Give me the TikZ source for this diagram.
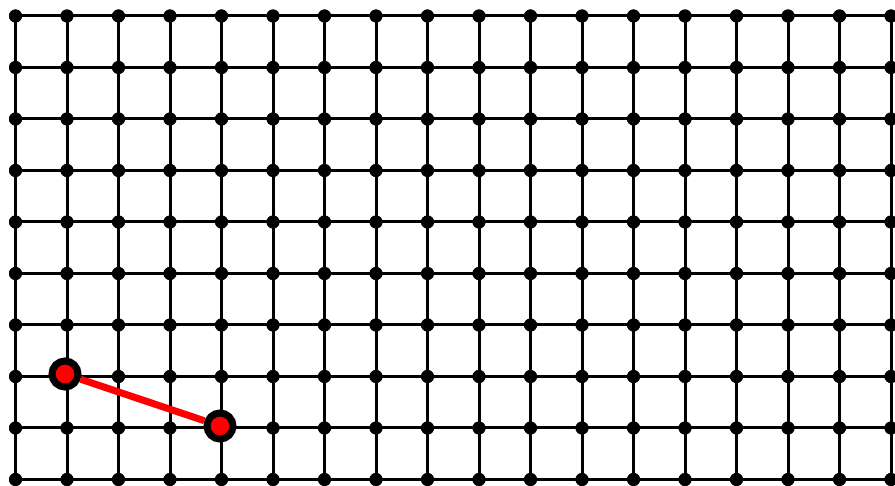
\documentclass[tikz,border=0pt]{standalone}
\begin{document}
\begin{tikzpicture}[x=1pt,y=-1pt,
  gdot/.style={circle,fill=black,inner sep=0pt,minimum size=13pt},
  gline/.style={line width=3pt,black},
  rednode/.style={circle,draw=black,line width=7pt,fill=red,inner sep=0pt,minimum size=26pt},
  redline/.style={line width=7pt,red}]
\useasboundingbox (0,0) rectangle (895,486);
\clip (0,0) rectangle (895,486);
\foreach \i in {0,...,18}{
  \foreach \j in {0,...,10}{
    \node[gdot] (d-\i-\j) at ({15.5+51.5*\i},{16+51.5*\j}) {};
  }
}
\foreach \i in {0,...,18}{
  \foreach \j [evaluate=\j as \k using int(\j+1)] in {0,...,9}{
    \draw[gline] (d-\i-\j.center) -- (d-\i-\k.center);
  }
}
\foreach \j in {0,...,10}{
  \foreach \i [evaluate=\i as \k using int(\i+1)] in {0,...,17}{
    \draw[gline] (d-\i-\j.center) -- (d-\k-\j.center);
  }
}
\foreach \i in {0,...,18}{
  \foreach \j in {0,...,10}{
    \fill (d-\i-\j) circle (6.5pt);
  }
}
\node[rednode] (a) at (65,374) {};
\node[rednode] (b) at (220,426) {};
\draw[redline] (a) -- (b);
\end{tikzpicture}
\end{document}
